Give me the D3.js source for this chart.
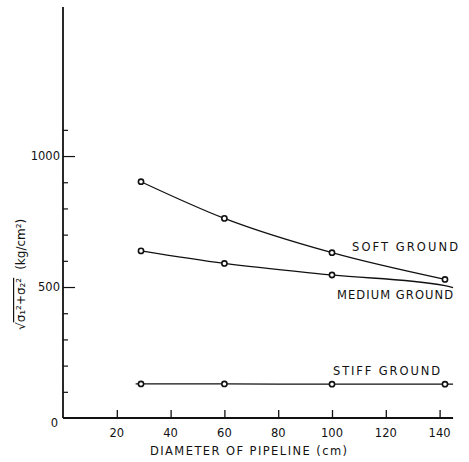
<!DOCTYPE html>
<html>
<head>
<meta charset="utf-8">
<script src="https://cdn.jsdelivr.net/npm/d3@7"></script>
<style>
body { margin: 0; background: #fff; }
svg text { font-family: "DejaVu Sans", sans-serif; fill: #111; }
</style>
</head>
<body>
<div id="chart"></div>
<script>
// DATA
const diameters = [29, 60, 100, 142]
const softGround = [902, 762, 631, 529]
const mediumGround = [638, 590, 546, 505]
const stiffGround = [130, 130, 129, 129]
const stiffExtent = [27, 145]
const xTicks = [20, 40, 60, 80, 100, 120, 140]
const yLabelTicks = [0, 500, 1000]
const yMinorTicks = [100, 200, 300, 400, 600, 700, 800, 900, 1100]

const width = 469
const height = 462
const margin = { left: 63, right: 14, top: 7, bottom: 44 }

const svg = d3.select("#chart").append("svg").attr("width", width).attr("height", height)
const g = svg.append("g").attr("transform", `translate(${margin.left}, ${margin.top})`)

const ih = height - margin.top - margin.bottom

// SCALES
const x = d3.scaleLinear().domain([0, 147]).range([0, 147 * 2.69])
const y = d3.scaleLinear().domain([0, 1569]).range([ih, 0])

// AXES (ticks inward)
const xAxis = d3.axisTop(x).tickValues(xTicks).tickSize(8).tickFormat("")
g.append("g").attr("transform", `translate(0, ${ih})`).call(xAxis)
  .call(s => s.select(".domain").remove())
  .selectAll("line").attr("stroke", "#111").attr("stroke-width", 1.3)

g.append("line").attr("x1", 0).attr("x2", x(145)).attr("y1", ih).attr("y2", ih)
  .attr("stroke", "#111").attr("stroke-width", 1.8)
g.append("line").attr("x1", 0).attr("x2", 0).attr("y1", 0).attr("y2", ih)
  .attr("stroke", "#111").attr("stroke-width", 1.8)

const yMajor = d3.axisRight(y).tickValues([500, 1000]).tickSize(12).tickFormat("")
g.append("g").call(yMajor).call(s => s.select(".domain").remove())
  .selectAll("line").attr("stroke", "#111").attr("stroke-width", 1.2)
const yMinor = d3.axisRight(y).tickValues(yMinorTicks).tickSize(5).tickFormat("")
g.append("g").call(yMinor).call(s => s.select(".domain").remove())
  .selectAll("line").attr("stroke", "#111").attr("stroke-width", 1.2)

// tick labels
g.selectAll(".xlab").data(xTicks).enter().append("text")
  .attr("x", d => x(d)).attr("y", ih + 19)
  .attr("text-anchor", "middle").attr("font-size", 11.5).text(d => d)
g.selectAll(".ylab").data(yLabelTicks).enter().append("text")
  .attr("x", d => d === 0 ? -5 : -3).attr("y", d => y(d) + (d === 0 ? 9 : 4))
  .attr("text-anchor", "end").attr("font-size", 11.5).text(d => d)

// axis titles
svg.append("text").attr("x", 150).attr("y", 455)
  .attr("font-size", 11.5).attr("textLength", 197).attr("lengthAdjust", "spacing")
  .text("DIAMETER OF PIPELINE (cm)")

const yt = svg.append("text").attr("transform", "translate(25, 330) rotate(-90)")
  .attr("font-size", 12)
yt.append("tspan").text("√")
yt.append("tspan").attr("text-decoration", "overline").text("σ₁²+σ₂²")
yt.append("tspan").attr("dx", 8).text("(kg/cm²)")

// LINES
const line = d3.line().x(d => x(d[0])).y(d => y(d[1])).curve(d3.curveMonotoneX)
const series = [
  { name: "SOFT GROUND", vals: softGround },
  { name: "MEDIUM GROUND", vals: mediumGround },
  { name: "STIFF GROUND", vals: stiffGround }
]

series.forEach(s => {
  let pts = diameters.map((d, i) => [d, s.vals[i]])
  let marks = pts
  if (s.name === "STIFF GROUND") pts = [[stiffExtent[0], s.vals[0]]].concat(pts, [[stiffExtent[1], s.vals[3]]])
  if (s.name === "MEDIUM GROUND") { pts = pts.concat([[145, 498]]); marks = marks.slice(0, 3) }
  g.append("path").datum(pts).attr("d", line)
    .attr("fill", "none").attr("stroke", "#111").attr("stroke-width", 1.3)
  g.selectAll(null).data(marks).enter().append("circle")
    .attr("cx", d => x(d[0])).attr("cy", d => y(d[1])).attr("r", 2.6)
    .attr("fill", "#fff").attr("stroke", "#111").attr("stroke-width", 1.6)
})

// series labels
const labs = [
  { t: "SOFT GROUND", x: 352, y: 251, w: 106 },
  { t: "MEDIUM GROUND", x: 337, y: 299, w: 116 },
  { t: "STIFF GROUND", x: 333, y: 375, w: 107 }
]
svg.selectAll(".slab").data(labs).enter().append("text")
  .attr("x", d => d.x).attr("y", d => d.y).attr("font-size", 11.5)
  .attr("textLength", d => d.w).attr("lengthAdjust", "spacing").text(d => d.t)
</script>
</body>
</html>
